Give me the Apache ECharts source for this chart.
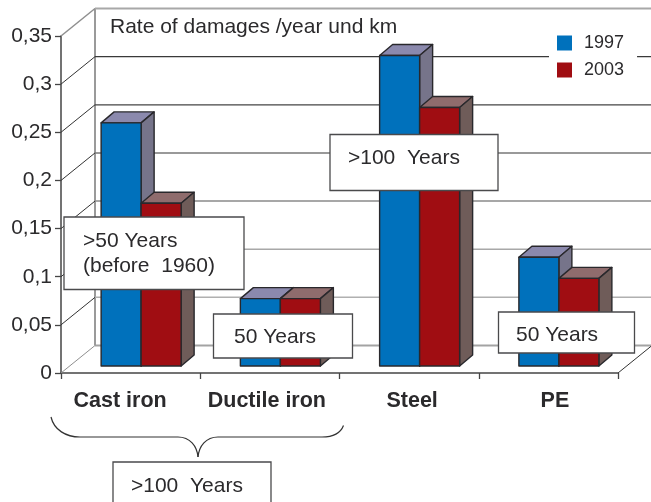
<!DOCTYPE html>
<html>
<head>
<meta charset="utf-8">
<style>
  html, body { margin: 0; padding: 0; background: #fff; }
  #chart { width: 651px; height: 502px; }
</style>
<script src="https://cdn.jsdelivr.net/npm/echarts@6/dist/echarts.min.js"></script>
</head>
<body>
<div id="chart"></div>
<script>
const categories = ["Cast iron", "Ductile iron", "Steel", "PE"]
const values1997 = [0.2525, 0.07, 0.3225, 0.113]
const values2003 = [0.169, 0.07, 0.2685, 0.091]
const yTicks = [0, 0.05, 0.1, 0.15, 0.2, 0.25, 0.3, 0.35]

const FONT = "Liberation Sans"
const INK = "#2b2a2c"
const wallColors = ["#a3a3a3", "#b0b0b0", "#a8a8a8", "#8a8a8a", "#777777", "#444444", "#3a3a3a", "#a8a8a8"]
const wallWidths = [2, 1.5, 1.5, 1.5, 1.5, 1.3, 1.3, 2]

// depth of the fake 3d box, in pixels
const DEPTH_X = 34
const DEPTH_Y = 27.5
const BAR_DEPTH_X = 13
const BAR_DEPTH_Y = 11
const BAR_LIFT = 7
const BAR_SHIFT = 10.5
const BAR_WIDTH = 40

function renderWall(params, api) {
  const i = params.dataIndex
  const cs = params.coordSys
  const p = api.coord([0, api.value(0)])
  const left = cs.x
  const right = cs.x + cs.width
  const backY = p[1] - DEPTH_Y
  const line = (x1, y1, x2, y2, stroke, lineWidth) => ({
    type: "line",
    shape: { x1, y1, x2, y2 },
    style: { stroke, lineWidth }
  })
  const children = [
    line(left, p[1], left + DEPTH_X, backY, i === 0 || i === 7 ? "#8f8f8f" : "#333", i === 7 ? 1.5 : 1),
    line(left + DEPTH_X, backY, right + DEPTH_X, backY, wallColors[i], wallWidths[i])
  ]
  if (i === 0) {
    const topY = api.coord([0, yTicks[yTicks.length - 1]])[1] - DEPTH_Y
    children.push(line(left + DEPTH_X, backY, left + DEPTH_X, topY, "#9a9a9a", 2))
    children.push(line(right, p[1], right + DEPTH_X, backY, "#333", 1))
  }
  return { type: "group", children }
}

function barRenderer(side, front, top, flank) {
  return (params, api) => {
    const center = api.coord([api.value(0), 0])[0] + BAR_SHIFT
    const x1 = side < 0 ? center - BAR_WIDTH : center
    const x2 = x1 + BAR_WIDTH
    const y0 = api.coord([0, 0])[1] - BAR_LIFT
    const y1 = api.coord([0, api.value(1)])[1] - BAR_LIFT
    const dx = BAR_DEPTH_X
    const dy = BAR_DEPTH_Y
    const style = (fill) => ({ fill, stroke: "#29282c", lineWidth: 1.4, lineJoin: "round" })
    return {
      type: "group",
      children: [
        { type: "polygon", shape: { points: [[x1, y1], [x1 + dx, y1 - dy], [x2 + dx, y1 - dy], [x2, y1]] }, style: style(top) },
        { type: "polygon", shape: { points: [[x2, y1], [x2 + dx, y1 - dy], [x2 + dx, y0 - dy], [x2, y0]] }, style: style(flank) },
        { type: "rect", shape: { x: x1, y: y1, width: x2 - x1, height: y0 - y1 }, style: style(front) }
      ]
    }
  }
}

function box(x, y, width, height) {
  return {
    type: "rect",
    z: 100,
    shape: { x, y, width, height },
    style: { fill: "#fff", stroke: "#4a4a4c", lineWidth: 1.3 }
  }
}

function label(x, y, text) {
  return {
    type: "text",
    z: 101,
    x,
    y,
    style: { text, fill: INK, font: `21px "${FONT}"`, verticalAlign: "middle" }
  }
}

function curve(x1, y1, cpx1, cpy1, cpx2, cpy2, x2, y2) {
  return {
    type: "bezierCurve",
    z: 60,
    shape: { x1, y1, cpx1, cpy1, cpx2, cpy2, x2, y2 },
    style: { fill: "none", stroke: "#333", lineWidth: 1.2 }
  }
}

function rule(x1, y1, x2, y2) {
  return {
    type: "line",
    z: 60,
    shape: { x1, y1, x2, y2 },
    style: { stroke: "#333", lineWidth: 1.2 }
  }
}

const option = {
  animation: false,
  backgroundColor: "#fff",
  textStyle: { fontFamily: FONT },
  grid: { left: 61, right: 33, top: 36, bottom: 129 },
  legend: {
    orient: "vertical",
    left: 549,
    top: 34,
    padding: [0, 13, 0, 8],
    itemWidth: 15,
    itemHeight: 15,
    itemGap: 9,
    backgroundColor: "#fff",
    z: 50,
    textStyle: { fontSize: 18, lineHeight: 15, color: INK, padding: [0, 0, 0, 7] },
    data: [
      { name: "1997", icon: "rect" },
      { name: "2003", icon: "rect" }
    ]
  },
  xAxis: {
    type: "category",
    data: categories,
    axisLine: { lineStyle: { color: "#454545", width: 1.5 } },
    axisTick: { show: true, length: 6, lineStyle: { color: "#454545", width: 1.3 } },
    axisLabel: {
      margin: 17,
      formatter: (v, i) => `{c${i}|${v}}`,
      rich: {
        c0: { fontSize: 21.5, fontWeight: "bold", color: INK, padding: [0, 21, 0, 0] },
        c1: { fontSize: 21.5, fontWeight: "bold", color: INK, padding: [0, 6, 0, 0] },
        c2: { fontSize: 21.5, fontWeight: "bold", color: INK, padding: [0, 0, 0, 6] },
        c3: { fontSize: 21.5, fontWeight: "bold", color: INK, padding: [0, 0, 0, 13] }
      }
    }
  },
  yAxis: {
    type: "value",
    min: 0,
    max: 0.35,
    interval: 0.05,
    splitLine: { show: false },
    axisLine: { show: true, lineStyle: { color: "#454545", width: 1.5 } },
    axisTick: { show: true, length: 6, lineStyle: { color: "#454545", width: 1.3 } },
    axisLabel: {
      margin: 9,
      fontSize: 21,
      color: INK,
      padding: [2, 0, 0, 0],
      formatter: (v) => String(Math.round(v * 100) / 100).replace(".", ",")
    }
  },
  series: [
    {
      type: "custom",
      name: "wall",
      z: 1,
      silent: true,
      renderItem: renderWall,
      encode: { y: 0 },
      data: yTicks.map((v) => [v])
    },
    {
      type: "custom",
      name: "1997",
      z: 2,
      itemStyle: { color: "#0071bc" },
      renderItem: barRenderer(-1, "#0071bc", "#8b89ad", "#76748a"),
      encode: { x: 0, y: 1 },
      data: categories.map((c, i) => [i, values1997[i]])
    },
    {
      type: "custom",
      name: "2003",
      z: 3,
      itemStyle: { color: "#a00d12" },
      renderItem: barRenderer(1, "#a00d12", "#8f6c6d", "#6f5c59"),
      encode: { x: 0, y: 1 },
      data: categories.map((c, i) => [i, values2003[i]])
    }
  ],
  graphic: [
    {
      type: "text",
      z: 60,
      x: 110,
      y: 27,
      style: { text: "Rate of damages /year und km", fill: INK, font: `21px "${FONT}"`, verticalAlign: "middle" }
    },
    box(64, 217, 180, 72.5),
    label(83, 241, ">50 Years"),
    label(83, 266, "(before  1960)"),
    box(213.5, 314, 139, 44),
    label(234, 337, "50 Years"),
    box(330, 134.5, 168, 56),
    label(348, 158, ">100  Years"),
    box(498.5, 312, 136, 41),
    label(516, 335, "50 Years"),
    box(113, 462, 158, 60),
    label(131, 486, ">100  Years"),
    curve(51, 417, 54, 430, 66, 437, 80, 437),
    rule(80, 437, 178, 437),
    curve(178, 437, 190, 437, 197, 446, 198, 457),
    curve(198, 457, 199, 446, 206, 437, 218, 437),
    rule(218, 437, 322, 437),
    curve(322, 437, 334, 437, 341, 432, 343.5, 425.5)
  ]
}

const chart = echarts.init(document.getElementById("chart"), null, { renderer: "canvas" })
chart.setOption(option)
</script>
</body>
</html>
